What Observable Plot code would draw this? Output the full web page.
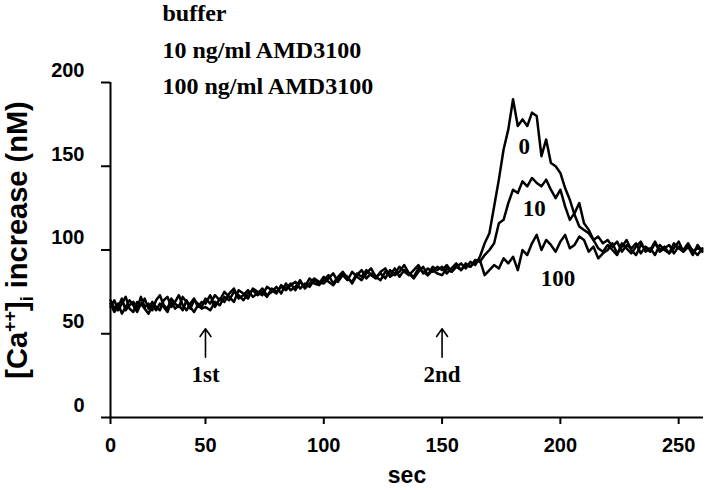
<!DOCTYPE html>
<html><head><meta charset="utf-8">
<script src="https://cdn.jsdelivr.net/npm/d3@7"></script>
<script src="https://cdn.jsdelivr.net/npm/@observablehq/plot@0.6"></script>
<style>body{margin:0;background:#fff} #chart{width:720px;height:490px}</style>
</head><body><div id="chart"></div>
<script>
// time (sec), sampled every 2 s
const sec = [0,2,4,6,8,10,12,14,16,18,20,22,24,26,28,30,32,34,36,38,40,42,44,46,48,
  50,52,54,56,58,60,62,64,66,68,70,72,74,76,78,80,82,84,86,88,90,92,94,96,98,
  100,102,104,106,108,110,112,114,116,118,120,122,124,126,128,130,132,134,136,138,140,142,144,146,148,
  150,152,154,156,158,160,162,164,
  166,168,170,172,174,176,178,180,182,184,186,188,190,192,194,196,198,200,202,204,206,208,210,212,214,216,218,
  220,222,224,226,228,230,232,234,236,238,240,242,244,246,248,250,252,254,256,258,260];

// [Ca++]i (nM) — buffer
const buffer = [68,63,66,71,64,67,69,65,72,66,68,64,70,73,67,65,71,68,66,72,69,65,70,68,66,
  71,68,73,70,75,72,69,76,74,71,77,75,73,78,76,74,79,77,80,76,81,78,83,80,79,
  82,85,80,84,87,83,81,86,84,88,85,83,87,89,84,86,90,87,85,88,91,86,89,87,90,
  88,91,87,90,92,89,93,91,
  96,104,110,126,142,160,172,190,174,178,174,182,180,156,166,152,150,146,137,130,121,114,112,110,106,108,104,
  106,102,105,99,103,101,104,98,102,100,105,99,101,103,98,102,100,104,99,101,100];

// 10 ng/ml AMD3100
const amd10 = [66,70,64,68,72,65,63,69,67,71,65,69,66,64,70,72,66,69,73,67,64,68,71,66,69,
  68,73,66,71,69,74,77,71,73,76,72,74,77,73,75,78,74,80,76,78,82,77,80,83,81,
  80,83,86,81,85,82,87,84,82,86,89,84,86,83,88,85,87,91,86,84,89,87,85,90,88,
  90,86,89,92,88,91,90,94,
  93,97,100,104,116,118,128,136,134,141,138,143,140,138,142,136,131,136,126,118,122,128,116,112,106,101,99,
  103,100,97,104,101,98,102,105,99,101,97,103,100,98,104,101,99,102,97,103,99];

// 100 ng/ml AMD3100
const amd100 = [70,65,68,62,66,70,67,63,68,65,62,67,64,68,66,63,69,65,67,64,70,66,63,67,65,
  66,64,69,67,72,70,75,73,70,74,76,73,75,72,77,75,78,76,79,81,77,80,78,82,80,
  84,81,79,83,86,84,80,85,88,83,86,84,82,87,85,89,84,88,86,83,87,90,85,88,86,
  85,89,87,90,88,92,90,93,
  94,85,88,91,89,95,92,96,88,100,97,104,109,100,106,103,99,105,109,101,103,108,106,99,102,95,98,
  100,104,98,102,106,100,97,103,101,99,104,100,102,98,101,105,99,102,100,97,101];

const seriesNames = ["buffer", "10 ng/ml AMD3100", "100 ng/ml AMD3100"];
const curveLabels = ["0", "10", "100"];
const curveLabelSec = [184.7, 189, 199];
const curveLabelVal = [162, 125, 83];
const injections = ["1st", "2nd"];
const injectionSec = [50, 150];
const arrowBaseVal = [36, 36];
const arrowTipVal = [53, 53];
const injectionLabelVal = [25.5, 25.5];
const xTicks = [0, 50, 100, 150, 200, 250];
const yTicks = [0, 50, 100, 150, 200];

const seriesValues = [buffer, amd10, amd100];
const tidy = [];
seriesValues.forEach((vals, s) => vals.forEach((v, i) => tidy.push({series: seriesNames[s], sec: sec[i], value: v})));

const serif = "'Liberation Serif', 'Times New Roman', serif";
const sans = "'Liberation Sans', Arial, Helvetica, sans-serif";

// the printed axis is compressed between 0 and 50 s (0→50 spans less than the other 50 s steps)
const compress = 0.803;
const xWarp = t => (t < 50 ? 50 - (50 - t) * compress : t);
const xTickPos = xTicks.map(xWarp);
const xTickLabel = d => {
  let best = 0;
  xTickPos.forEach((p, i) => { if (Math.abs(p - d) < Math.abs(xTickPos[best] - d)) best = i; });
  return String(xTicks[best]);
};

const chart = Plot.plot({
  width: 720, height: 490,
  marginLeft: 110, marginRight: 17, marginTop: 82, marginBottom: 73,
  style: {background: "white", color: "black", fontFamily: sans, overflow: "visible"},
  x: {transform: xWarp, domain: [xWarp(0), 260.5]},
  y: {domain: [0, 200]},
  marks: [
    Plot.ruleX([0], {stroke: "black", strokeWidth: 2}),
    Plot.ruleY([0], {stroke: "black", strokeWidth: 2}),
    Plot.axisY({ticks: yTicks, tickSize: 9, fill: "none", strokeWidth: 2, label: null}),
    Plot.axisY({ticks: yTicks, tickSize: 0, tickPadding: 26, dy: -12, fontSize: 20, fontWeight: "bold", label: null}),
    Plot.axisX({ticks: xTickPos, tickSize: 7, fill: "none", strokeWidth: 2, label: null}),
    Plot.axisX({ticks: xTickPos, tickFormat: xTickLabel, tickSize: 0, tickPadding: 20, fontSize: 20, fontWeight: "bold", label: null}),
    Plot.line(tidy, {x: "sec", y: "value", z: "series", stroke: "black", strokeWidth: 2.5}),
    ...seriesNames.map((name, i) => Plot.text([name], {
      frameAnchor: "top-left", dx: 52, dy: [-69, -32, 4][i], textAnchor: "start", lineAnchor: "middle",
      fontFamily: serif, fontWeight: "bold", fontSize: 24, fill: "black"
    })),
    Plot.text(curveLabels, {x: (d, i) => curveLabelSec[i], y: (d, i) => curveLabelVal[i],
      fontFamily: serif, fontWeight: "bold", fontSize: 23, fill: "black"}),
    Plot.arrow(injectionSec, {x: d => d, y1: (d, i) => arrowBaseVal[i], y2: (d, i) => arrowTipVal[i],
      stroke: "black", strokeWidth: 1.6, headLength: 10, headAngle: 70}),
    Plot.text(injections, {x: (d, i) => injectionSec[i], y: (d, i) => injectionLabelVal[i],
      fontFamily: serif, fontWeight: "bold", fontSize: 23, fill: "black"}),
    Plot.text(["sec"], {frameAnchor: "bottom", dy: 65, fontSize: 23, fontWeight: "bold", fill: "black"})
  ]
});

document.getElementById("chart").appendChild(chart);

// y-axis title with superscript / subscript
const svg = d3.select(chart);
const t = svg.append("text")
  .attr("transform", "translate(27,240) rotate(-90)")
  .attr("text-anchor", "middle")
  .attr("font-family", sans)
  .attr("font-weight", "bold")
  .attr("font-size", 29)
  .attr("fill", "black");
t.append("tspan").text("[Ca");
t.append("tspan").attr("font-size", 18).attr("dy", -11).text("++");
t.append("tspan").attr("dy", 11).text("]");
t.append("tspan").attr("font-size", 18).attr("dy", 6).text("i");
t.append("tspan").attr("dy", -6).text(" increase (nM)");
</script>
</body></html>
